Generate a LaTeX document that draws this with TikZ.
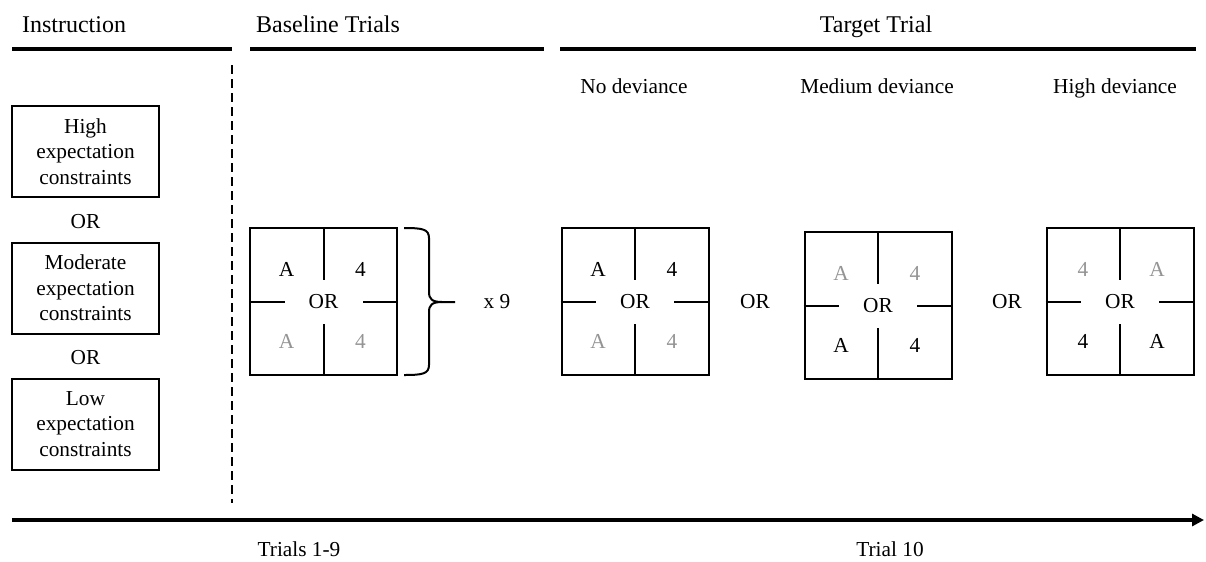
\documentclass[tikz,border=0pt]{standalone}
\usepackage{fontspec}
\setmainfont{Liberation Serif}
\usetikzlibrary{calc,arrows.meta}
\newcommand\trialgrid[6]{%
  \node[cell] (#1) at #2 {};
  \draw[gridline] (#1.north) -- ($(#1.center)+(0,-22)$);
  \draw[gridline] (#1.south) -- ($(#1.center)+(0,22)$);
  \draw[gridline] (#1.west) -- ($(#1.center)+(-39,0)$);
  \draw[gridline] (#1.east) -- ($(#1.center)+(39,0)$);
  \node[txt] (#1or) at (#1.center) {OR};
  \node[txt] (#1tl) at ($(#1.center)+(-37,-32)$) {#3};
  \node[txt] (#1tr) at ($(#1.center)+(37,-32)$) {#4};
  \node[txt] (#1bl) at ($(#1.center)+(-37,40)$) {#5};
  \node[txt] (#1br) at ($(#1.center)+(37,40)$) {#6};
}
\definecolor{lettergrey}{gray}{0.58}
\begin{document}
\begin{tikzpicture}[x=0.75pt,y=-0.75pt,
  txt/.style={inner sep=0pt,font=\fontsize{16}{19}\selectfont},
  head/.style={inner sep=0pt,anchor=base,font=\fontsize{18}{21}\selectfont},
  sub/.style={inner sep=0pt,anchor=base,font=\fontsize{16}{19}\selectfont},
  box/.style={draw,line width=1.5pt,minimum width=110.25pt,minimum height=68.25pt,inner sep=0pt,align=center,font=\fontsize{16}{19}\selectfont},
  cell/.style={draw,line width=1.5pt,minimum width=110.25pt,minimum height=110.25pt,inner sep=0pt},
  gridline/.style={line width=1.5pt},
  hline/.style={line width=2.3pt},
  grey/.style={text=lettergrey}]
\useasboundingbox (0,0) rectangle (1206,561);
% headers
\node[head] (hI) at (74,32) {Instruction};
\node[head] (hB) at (328,32) {Baseline Trials};
\node[head] (hT) at (876,32) {Target Trial};
\coordinate (l1a) at (12,49); \coordinate (l1b) at (232,49);
\coordinate (l2a) at (250,49); \coordinate (l2b) at (544,49);
\coordinate (l3a) at (560,49); \coordinate (l3b) at (1196,49);
\draw[hline] (l1a) -- (l1b);
\draw[hline] (l2a) -- (l2b);
\draw[hline] (l3a) -- (l3b);
\node[sub] (sN) at (634,93) {No deviance};
\node[sub] (sM) at (877,93) {Medium deviance};
\node[sub] (sH) at (1115,93) {High deviance};
% instruction boxes
\node[box] (b1) at (85.5,151.5) {High\\expectation\\constraints};
\node[txt] (or1) at (85.5,222) {OR};
\node[box] (b2) at (85.5,288) {Moderate\\expectation\\constraints};
\node[txt] (or2) at (85.5,358) {OR};
\node[box] (b3) at (85.5,424) {Low\\expectation\\constraints};
% dashed separator
\coordinate (da) at (232,65); \coordinate (db) at (232,503);
\draw[line width=1.4pt,dash pattern=on 6.5pt off 4pt] (da) -- (db);
% grids
\trialgrid{g0}{(323.5,301.5)}{A}{4}{\textcolor{lettergrey}{A}}{\textcolor{lettergrey}{4}}
\trialgrid{g1}{(635,301.5)}{A}{4}{\textcolor{lettergrey}{A}}{\textcolor{lettergrey}{4}}
\trialgrid{g2}{(878,305.5)}{\textcolor{lettergrey}{A}}{\textcolor{lettergrey}{4}}{A}{4}
\trialgrid{g3}{(1120,301.5)}{\textcolor{lettergrey}{4}}{\textcolor{lettergrey}{A}}{4}{A}
\node[txt] (orA) at (755,302) {OR};
\node[txt] (orB) at (1007,302) {OR};
% brace
\draw[line width=1.5pt] (404,228) .. controls (422,228) and (429,229) .. (429,238) -- (429,292)
   .. controls (429,299) and (432,302) .. (442,302) -- (455,302);
\draw[line width=1.5pt] (404,375) .. controls (422,375) and (429,374) .. (429,365) -- (429,312)
   .. controls (429,305) and (432,302) .. (442,302);
\node[txt] (x9) at (497,302) {x 9};
% axis
\coordinate (axs) at (12,520); \coordinate (axe) at (1204,520);
\draw[line width=2.3pt,-{Triangle[length=9pt,width=9pt]}] (axs) -- (axe);
\node[txt] (t19) at (299,549) {Trials 1-9};
\node[txt] (t10) at (890,549) {Trial 10};
\end{tikzpicture}
\end{document}
